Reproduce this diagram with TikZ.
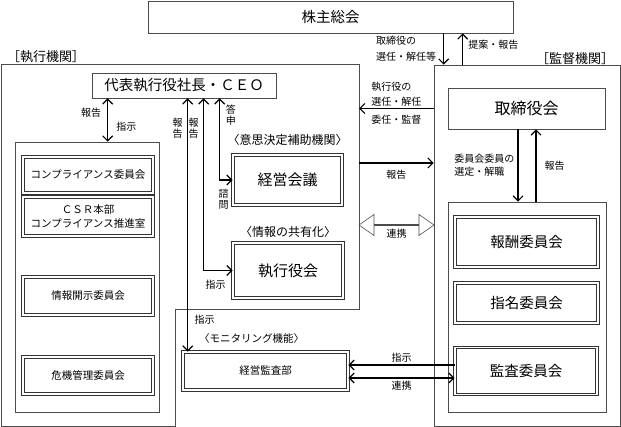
\documentclass[tikz,border=0pt]{standalone}
\usepackage{fontspec}
\setmainfont{Noto Sans CJK JP}
\usetikzlibrary{positioning, arrows.meta, shapes.arrows}
\tikzset{
  >={Straight Barb[length=5pt,width=10pt]}, % open arrow heads
  box/.style={draw=black!70, line width=0.6pt, inner sep=1pt, align=center},
  dbox/.style={box, draw=black!80, line width=0.75pt, double, double distance=1.6pt},
  region/.style={draw=black!70, line width=0.6pt},
  conn/.style={line width=1.2pt},
  lbl/.style={font=\fontsize{10}{15}\selectfont, inner sep=2pt, align=left},
  vlbl/.style={font=\fontsize{10}{10.5}\selectfont, inner sep=1pt, align=center},
  head/.style={font=\fontsize{12}{14}\selectfont, inner sep=0pt},
  big/.style={font=\fontsize{14.5}{17}\selectfont},
  small/.style={font=\fontsize{10.5}{14}\selectfont},
  cbox/.style={dbox, small, minimum width=130pt}
}

\begin{document}
\begin{tikzpicture}[x=1pt, y=-1pt]
  \useasboundingbox (0,0) rectangle (621,427);

  % regions
  \coordinate (exNW) at (1,64);
  \coordinate (exNE) at (359,64);
  \draw[region] (exNW) -- (exNE) -- (359,309) -- (175,309) -- (175,426) -- (1,426) -- cycle;
  \node[region, minimum width=186pt, minimum height=361pt] (sv) at (527,245.5) {};
  \node[head, font=\fontsize{13}{15}\selectfont] (exlbl) at (46,57) {［執行機関］};
  \node[head, font=\fontsize{13}{15}\selectfont] (svlbl) at (575,59) {［監督機関］};

  % top boxes
  \node[box, big, minimum width=365pt, minimum height=32pt] (gm) at (330.5,17) {株主総会};
  \node[box, big, minimum width=184pt, minimum height=25pt] (ceo) at (184,85.5) {代表執行役社長・ＣＥＯ};
  \node[box, font=\fontsize{16}{18}\selectfont, minimum width=157pt, minimum height=41pt] (bod) at (526.5,108.5) {取締役会};

  % compliance side
  \node[box, minimum width=144pt, minimum height=270pt] (cg) at (87,277) {};
  \node[cbox, minimum height=36pt] (cc) at (88,175) {コンプライアンス委員会};
  \node[cbox, minimum height=39pt] (csr) at (88,216.5) {ＣＳＲ本部\\コンプライアンス推進室};
  \node[cbox, minimum height=38pt] (disc) at (88,296) {情報開示委員会};
  \node[cbox, minimum height=37pt] (risk) at (88,375.5) {危機管理委員会};

  % meetings and audit
  \node[dbox, font=\fontsize{15}{17}\selectfont, minimum width=109pt, minimum height=50pt] (mgmt) at (287.5,180) {経営会議};
  \node[dbox, font=\fontsize{15}{17}\selectfont, minimum width=110pt, minimum height=55pt] (exec) at (288,270.5) {執行役会};
  \node[dbox, small, minimum width=165pt, minimum height=38pt] (audit) at (265.5,371) {経営監査部};
  \node[head] at ([yshift=15pt]mgmt.north) {〈意思決定補助機関〉};
  \node[head] at ([yshift=11pt]exec.north) {〈情報の共有化〉};
  \node[head, font=\fontsize{10.5}{12}\selectfont] at ([xshift=-14pt,yshift=13pt]audit.north) {〈モニタリング機能〉};

  % committees
  \node[box, minimum width=158pt, minimum height=210pt] (sg) at (527,307) {};
  \node[dbox, big, minimum width=143pt, minimum height=50pt] (pay) at (526.5,242) {報酬委員会};
  \node[dbox, big, minimum width=143pt, minimum height=40pt] (nom) at (526.5,303) {指名委員会};
  \node[dbox, big, minimum width=142pt, minimum height=47pt] (aud) at (526,371) {監査委員会};

  % shareholders <-> board
  \coordinate (dn) at ([xshift=10pt]sv.north west);
  \coordinate (up) at ([xshift=29pt]sv.north west);
  \draw[conn,->] (dn |- gm.south) -- node[lbl, left, xshift=-5pt, font=\fontsize{10}{16}\selectfont] {取締役の\\選任・解任等} (dn);
  \draw[conn,->] (up) -- node[lbl, right, xshift=3pt, yshift=4pt] {提案・報告} (up |- gm.south);

  % board -> executive side
  \draw[conn,->] (bod.west -| sv.west) -- node[lbl, above] {執行役の\\選任・解任} node[lbl, below, yshift=-4pt] {委任・監督} (bod.west -| exNE);
  \coordinate (rp) at (0,163);
  \draw[conn,->] (rp -| exNE) -- node[lbl, below, yshift=-5pt] {報告} (rp -| sv.west);
  \node[draw=black!70, line width=0.6pt, double arrow, minimum height=75pt, minimum width=21pt,
        double arrow head extend=5.5pt, double arrow tip angle=70, inner sep=0pt] (coop) at (396.5,225) {};
  \node[lbl, below=1pt of coop] {連携};

  % board <-> committees
  \coordinate (bd) at ([xshift=-8.5pt]bod.south);
  \coordinate (bu) at ([xshift=9.5pt]bod.south);
  \draw[conn,->] (bd) -- node[lbl, left, inner sep=3pt, font=\fontsize{10}{13}\selectfont] {委員会委員の\\選定・解職} (bd |- sg.north);
  \draw[conn,->] (bu |- sg.north) -- node[lbl, right, xshift=6pt] {報告} (bu);

  % ceo <-> compliance
  \coordinate (ci) at ([xshift=16pt]ceo.south west);
  \draw[conn,<->] (ci) -- node[lbl, left, xshift=-4pt, yshift=7pt] {報告} node[lbl, right, xshift=6pt, yshift=-7pt] {指示} (ci |- cg.north);

  % ceo <-> meetings and audit
  \coordinate (c1) at ([xshift=96pt]ceo.south west);
  \coordinate (c2) at ([xshift=112pt]ceo.south west);
  \coordinate (c3) at ([xshift=128pt]ceo.south west);
  \coordinate (k1) at (c1 |- audit.north);
  \coordinate (k2) at (c2 |- exec.west);
  \coordinate (k3) at (c3 |- mgmt.west);
  \draw[conn,<->] (c1) -- (k1);
  \draw[conn,<->] (c2) -- (k2) -- (exec.west);
  \draw[conn,<->] (c3) -- (k3) -- (mgmt.west);
  \node[vlbl, left=4pt] at ([yshift=-30pt]c1) {報\\告};
  \node[vlbl, left=4pt] at ([yshift=-30pt]c2) {報\\告};
  \node[vlbl, right=5pt] at ([yshift=-17pt]c3) {答\\申};
  \node[vlbl] at ([xshift=4pt,yshift=-19pt]k3) {諮\\問};
  \node[lbl] at ([xshift=12pt,yshift=-14pt]k2) {指示};
  \node[lbl] at ([xshift=17pt,yshift=32pt]k1) {指示};

  % audit <-> audit committee
  \draw[conn,->] ([yshift=6pt]aud.west) -- node[lbl, above] {指示} ([yshift=6pt]audit.east);
  \draw[conn,<->] ([yshift=-7pt]audit.east) -- node[lbl, below] {連携} ([yshift=-7pt]aud.west);

\end{tikzpicture}
\end{document}
